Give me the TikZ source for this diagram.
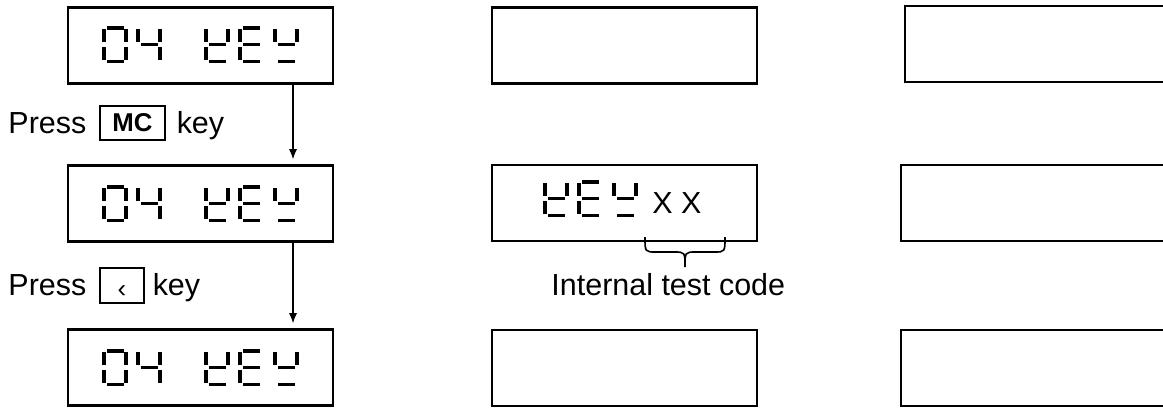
\documentclass[tikz,border=0pt]{standalone}
\usepackage{fontspec}
\setmainfont{Liberation Sans}
\usepackage{tikz}
\usetikzlibrary{arrows.meta,positioning}

% one seven-segment character, top left corner at (#1,#2)
\newcommand{\lcdchar}[3]{%
  \begin{scope}[shift={(#1,#2)}]
    \foreach \s in {#3} {
      \if\s a\fill (5,0) rectangle (22,3.6);\fi
      \if\s b\fill (22.4,3) rectangle (26,15.5);\fi
      \if\s c\fill (22.4,21) rectangle (26,33.5);\fi
      \if\s d\fill (5,33.6) rectangle (22,37.2);\fi
      \if\s e\fill (0,21) rectangle (3.6,33.5);\fi
      \if\s f\fill (0,3) rectangle (3.6,15.5);\fi
      \if\s g\fill (5,16.7) rectangle (22,20.1);\fi
    }
  \end{scope}}

\begin{document}
\begin{tikzpicture}[
        x=0.015cm, y=-0.015cm,
        font=\fontsize{13}{15}\selectfont,
        display/.style={
            draw,
            line width=1.1pt,
            minimum width=3.975cm,
            minimum height=1.14cm,
            inner sep=0pt
        },
        keycap/.style={
            draw,
            line width=1.1pt,
            inner sep=0pt,
            font=\fontsize{11}{12}\selectfont\bfseries
        },
        caption/.style={
            inner sep=0pt,
            anchor=base west
        },
        arrow/.style={
            -{Latex[length=0.15cm,width=0.12cm]},
            line width=0.5pt,
            shorten >=0.075cm
        }
    ]
    \useasboundingbox (0,0) rectangle (1163,407);
    \clip (0,0) rectangle (1163,407);

    \node[display] (leftTop) at (200.5,45.5) {};
    \node[display] (leftMid) at (200.5,203.5) {};
    \node[display] (leftBot) at (200.5,367.5) {};
    \node[display] (centerTop) at (624.5,45.5) {};
    \node[display] (centerMid) at (624.5,203) {};
    \node[display] (centerBot) at (624.5,368) {};
    \node[display] (rightTop) at (1037.5,44) {};
    \node[display] (rightMid) at (1033.5,203) {};
    \node[display] (rightBot) at (1033.5,368) {};

    % 04 kEY in the left displays
    \foreach \y in {26,185,349} {
        \lcdchar{102}{\y}{a,b,c,d,e,f}
        \lcdchar{136}{\y}{f,b,g,c}
        \lcdchar{204}{\y}{f,b,g,e,d}
        \lcdchar{238}{\y}{a,f,g,e,d}
        \lcdchar{273}{\y}{f,b,g,d}
    }
    \lcdchar{543}{180}{f,b,g,e,d}
    \lcdchar{577}{180}{a,f,g,e,d}
    \lcdchar{612}{180}{f,b,g,d}
    \node[caption] (testcode) at (652,213) {X X};

    \draw[line width=0.7pt] (645,237) .. controls (645,252) .. (656,252) -- (674,252)
        .. controls (685,252) .. (685,267) .. controls (685,252) .. (696,252)
        -- (714,252) .. controls (725,252) .. (725,237);
    \node[caption] (codelabel) at (551,295) {Internal test code};

    \node[caption] (pressone) at (8,133) {Press};
    \node[keycap, minimum width=0.975cm, minimum height=0.51cm] (mckey) at (132.5,123) {MC};
    \node[caption] (keyone) at ([xshift=0.15cm]mckey.east |- pressone.base) {key};

    \node[caption] (presstwo) at (8,295) {Press};
    \node[keycap, minimum width=0.66cm, minimum height=0.525cm, text height=0.35cm, text depth=0cm,
        font=\fontsize{11}{12}\selectfont] (backkey) at (122,285.5) {‹};
    \node[caption] (keytwo) at ([xshift=0.105cm]backkey.east |- presstwo.base) {key};

    \draw[arrow] ([xshift=1.3875cm]leftTop.south) -- ([xshift=1.3875cm]leftMid.north);
    \draw[arrow] ([xshift=1.3875cm]leftMid.south) -- ([xshift=1.3875cm]leftBot.north);

\end{tikzpicture}
\end{document}
